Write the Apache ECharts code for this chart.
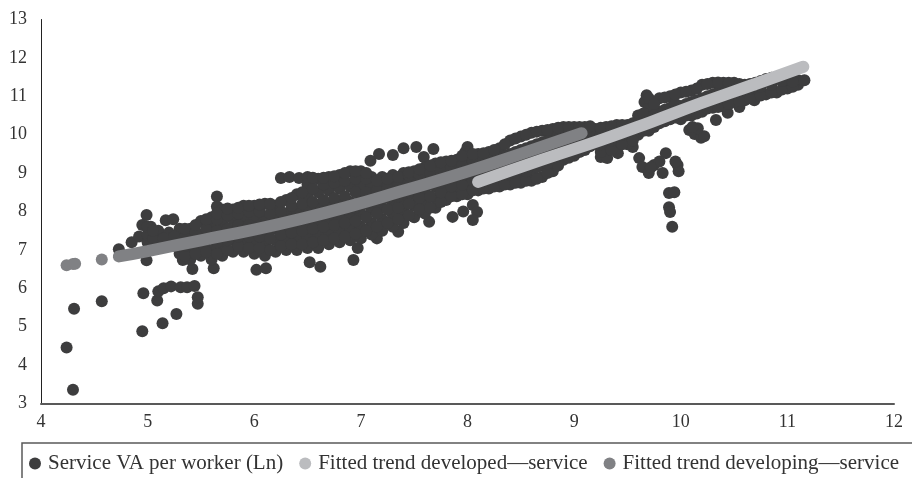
<!DOCTYPE html>
<html><head><meta charset="utf-8">
<style>html,body{margin:0;background:#fff}#c{width:912px;height:478px}</style>
<script src="https://cdn.jsdelivr.net/npm/echarts@6/dist/echarts.min.js"></script></head>
<body><div id="c"></div>
<script>
const xTicksMin = 4, xTicksMax = 12, yTicksMin = 3, yTicksMax = 13;
const seriesNames = ['Service VA per worker (Ln)', 'Fitted trend developed\u2014service', 'Fitted trend developing\u2014service'];
const serviceOutliers = [[4.30,3.36],[4.24,4.46],[4.31,5.47],[4.57,5.66],[4.96,5.87],[4.95,4.88],[5.14,5.09],[5.27,5.33],[5.47,5.60],[5.47,5.77],[5.09,5.68],[5.10,5.92],[5.15,6.0],[5.22,6.05],[5.31,6.03],[5.37,6.03],[5.44,6.06],[4.99,6.73],[4.73,7.02],[4.85,7.2],[4.92,7.35],[4.99,7.91],[4.95,7.65],[5.03,7.6],[5.17,7.77],[5.24,7.80],[5.65,8.39],[5.65,8.13],[5.42,6.5],[5.62,6.52],[6.02,6.48],[6.11,6.52],[5.33,6.74],[6.52,6.68],[6.62,6.56],[6.93,6.74],[6.97,7.05],[7.15,7.3],[7.35,7.47],[7.64,7.73],[7.86,7.86],[7.96,8.0],[8.05,8.17],[8.09,7.99],[8.05,7.78],[7.09,9.32],[7.17,9.5],[7.30,9.47],[7.40,9.65],[7.52,9.68],[7.68,9.63],[7.59,9.42],[8.0,9.68],[7.98,9.55],[6.25,8.87],[6.33,8.9],[6.42,8.87],[9.61,9.39],[9.64,9.16],[9.7,9.0],[9.75,9.21],[9.83,9.0],[9.86,9.52],[9.8,9.3],[9.72,9.15],[9.97,9.21],[9.98,9.05],[9.95,9.3],[9.89,8.48],[9.94,8.5],[9.89,8.11],[9.9,7.99],[9.92,7.6],[10.33,10.38],[10.44,10.57],[10.55,10.72],[10.69,10.9],[10.08,10.12],[10.13,10.02],[10.19,9.92],[10.22,9.96],[10.16,10.17],[10.11,10.2],[9.68,11.03],[9.66,10.85],[9.25,9.42],[9.31,9.39],[9.41,9.52],[9.55,9.68]];
const serviceColumns = [
[5.0,7.2,7.4,7.6],[5.1,7.2,7.5],[5.2,7.2,7.45],[5.3,6.9,7.15,7.4,7.55],[5.4,6.75,7.0,7.25,7.55],[5.5,6.85,7.1,7.4,7.75],
[5.6,6.75,7.0,7.3,7.6,7.85],[5.7,6.85,7.1,7.4,7.7,8.05],[5.8,6.95,7.25,7.5,7.8,8.05],[5.9,6.95,7.2,7.5,7.8,8.15],[6.0,6.9,7.2,7.5,7.85,8.15],[6.1,6.85,7.15,7.45,7.8,8.2],
[6.2,6.95,7.25,7.55,7.85,8.15],[6.3,7.0,7.3,7.6,7.95,8.3],[6.4,7.0,7.3,7.65,8.0,8.45],[6.5,7.05,7.35,7.7,8.05,8.4,8.7,8.9],[6.6,7.05,7.4,7.75,8.1,8.5,8.85],[6.7,7.15,7.45,7.8,8.15,8.55,8.9],
[6.8,7.2,7.5,7.85,8.2,8.6,8.95],[6.9,7.25,7.55,7.9,8.25,8.65,9.05],[7.0,7.3,7.6,7.95,8.3,8.7,9.05],[7.1,7.4,7.7,8.05,8.35,8.65,8.9],[7.2,7.5,7.8,8.1,8.4,8.7,8.9],[7.3,7.6,7.9,8.2,8.5,8.75,8.95],
[7.4,7.7,8.0,8.3,8.6,8.8,9.0],[7.5,7.85,8.15,8.45,8.75,9.05],[7.6,7.95,8.2,8.5,8.85,9.15],[7.7,8.1,8.35,8.65,8.95,9.25],[7.8,8.3,8.55,8.8,9.05,9.3],[7.9,8.4,8.65,8.9,9.15,9.35],
[8.0,8.45,8.7,9.0,9.25,9.5],[8.1,8.55,8.8,9.05,9.3,9.5],[8.2,8.6,8.85,9.1,9.35,9.55],[8.3,8.65,8.9,9.15,9.4,9.65],[8.4,8.7,8.95,9.2,9.5,9.85],[8.5,8.75,9.0,9.3,9.6,9.95],
[8.6,8.8,9.1,9.4,9.7,10.05],[8.7,8.9,9.2,9.5,9.8,10.1],[8.8,9.05,9.3,9.6,9.9,10.15],[8.9,9.35,9.65,9.95,10.2],[9.0,9.45,9.75,10.0,10.2],[9.1,9.6,9.85,10.05,10.2],
[9.2,9.75,9.95,10.15],[9.3,9.6,9.85,10.05,10.2],[9.4,9.65,9.9,10.25],[9.5,9.75,10.0,10.25],[9.6,10.0,10.25,10.5],[9.7,10.1,10.4,10.7,10.95],
[9.8,10.3,10.6,10.95],[9.9,10.4,10.7,11.0],[10.0,10.4,10.75,11.1],[10.1,10.5,10.85,11.15],[10.2,10.6,10.95,11.3],[10.3,10.7,11.05,11.35],
[10.4,10.75,11.1,11.35],[10.5,10.85,11.15,11.35],[10.6,10.9,11.15,11.3],[10.7,11.0,11.35],[10.8,11.05,11.45],[10.9,11.1,11.45],[11.0,11.2,11.35],[11.1,11.3,11.42],[11.16,11.42]
];
const serviceColumnsBetween = [
[5.05,7.3,7.5],[5.15,7.3],[5.25,7.1,7.35],[5.35,6.85,7.1,7.35,7.55],[5.45,6.9,7.2,7.45,7.65],[5.55,6.95,7.25,7.55,7.8],
[5.65,6.9,7.2,7.5,7.8,7.95],[5.75,7.0,7.25,7.55,7.9,8.08],[5.85,7.1,7.35,7.65,7.95,8.1],[5.95,7.05,7.35,7.65,8.0,8.15],[6.05,7.05,7.35,7.65,8.0,8.18],[6.15,7.0,7.3,7.6,7.95,8.2],
[6.25,7.1,7.4,7.7,8.0,8.25],[6.35,7.15,7.45,7.8,8.15,8.35],[6.45,7.15,7.5,7.85,8.2,8.5],[6.55,7.2,7.55,7.9,8.25,8.6,8.88],[6.65,7.25,7.6,7.95,8.3,8.7,8.88],[6.75,7.3,7.65,8.0,8.35,8.75,8.92],
[6.85,7.35,7.7,8.05,8.4,8.8,9.0],[6.95,7.42,7.75,8.1,8.5,8.85,9.05],[7.05,7.5,7.85,8.2,8.5,8.85,9.0],[7.15,7.6,7.95,8.25,8.55,8.8],[7.25,7.7,8.05,8.35,8.6,8.85],[7.35,7.8,8.1,8.4,8.65,8.9],
[7.45,7.9,8.2,8.5,8.75,8.95,9.02],[7.55,8.05,8.35,8.65,8.95,9.1],[7.65,8.1,8.4,8.7,9.0,9.2],[7.75,8.25,8.5,8.75,9.05,9.28],[7.85,8.4,8.65,8.9,9.15,9.32],[7.95,8.45,8.7,8.95,9.2,9.45],
[8.05,8.55,8.8,9.05,9.3,9.5],[8.15,8.6,8.85,9.1,9.35,9.52],[8.25,8.65,8.9,9.15,9.4,9.6],[8.35,8.7,8.95,9.2,9.45,9.75],[8.45,8.75,9.0,9.25,9.55,9.9],[8.55,8.8,9.05,9.35,9.65,10.0],
[8.65,8.85,9.15,9.45,9.75,10.08],[8.75,9.0,9.25,9.55,9.85,10.12],[8.85,9.2,9.45,9.75,10.0,10.18],[8.95,9.4,9.7,9.95,10.2],[9.05,9.55,9.8,10.0,10.2],[9.15,9.7,9.9,10.1,10.22],
[9.25,9.55,9.75,10.0,10.18],[9.35,9.6,9.85,10.1,10.22],[9.45,9.75,10.0,10.25],[9.55,9.85,10.1,10.3],[9.65,10.1,10.3,10.55],[9.75,10.2,10.5,10.8],
[9.85,10.35,10.65,10.97],[9.95,10.45,10.8,11.05],[10.05,10.5,10.8,11.12],[10.15,10.55,10.9,11.2],[10.25,10.68,11.0,11.32],[10.35,10.72,11.1,11.36],
[10.45,10.8,11.15,11.35],[10.55,10.88,11.15,11.32],[10.65,10.95,11.2,11.32],[10.75,11.02,11.25,11.4],[10.85,11.1,11.3,11.48],[10.95,11.18,11.4],[11.05,11.25,11.38]
];
const developingIsolated = [[4.24,6.6],[4.3,6.63],[4.32,6.64],[4.57,6.75]];
const developingLine = [[4.73,6.83],[5.0,6.97],[5.5,7.25],[6.0,7.53],[6.43,7.80],[6.9,8.14],[7.37,8.52],[8.0,9.04],[8.5,9.5],[9.07,10.04]];
const developedLine = [[8.1,8.77],[8.7,9.35],[9.25,9.86],[9.72,10.33],[10.19,10.82],[10.7,11.32],[11.15,11.77]];

const DARK='#3d3d3e', MID='#808184', LIGHT='#bbbcbf', SERIF='"Liberation Serif", serif';
const serviceData = serviceOutliers
  .concat(serviceColumns.flatMap(c => c.slice(1).map(y => [c[0], y])))
  .concat(serviceColumnsBetween.flatMap(c => c.slice(1).map(y => [c[0], y])));
const chart = echarts.init(document.getElementById('c'), null, {renderer:'canvas'});
const axisCommon = {
  splitLine:{show:false}, axisTick:{show:false},
  axisLabel:{color:'#333', fontFamily:SERIF, fontSize:18}
};
chart.setOption({
  animation:false,
  grid:{left:41, right:18, top:19.5, bottom:74.5},
  xAxis:Object.assign({type:'value',min:xTicksMin,max:xTicksMax,interval:1,
    axisLine:{show:true,onZero:false,lineStyle:{color:'#595959',width:2}}},axisCommon,
    {axisLabel:Object.assign({},axisCommon.axisLabel,{margin:10})}),
  yAxis:Object.assign({type:'value',min:yTicksMin,max:yTicksMax,interval:1,
    axisLine:{show:true,onZero:false,lineStyle:{color:'#222',width:1}}},axisCommon,
    {axisLabel:Object.assign({},axisCommon.axisLabel,{margin:14})}),
  legend:{left:29, top:453, icon:'circle', itemWidth:12, itemHeight:12, itemGap:16, padding:0,
    data:seriesNames,
    textStyle:{color:'#333', fontFamily:SERIF, fontSize:21, padding:[0,0,0,2]}},
  graphic:[
    {type:'polyline',shape:{points:[[912,443],[22,443],[22,478]]},style:{stroke:'#595959',lineWidth:1.5,fill:null}}
  ],
  series:[
    {name:seriesNames[0],type:'scatter',symbolSize:12,data:serviceData,itemStyle:{color:DARK,opacity:1},z:2},
    {name:seriesNames[2],type:'scatter',symbolSize:12,data:developingIsolated,itemStyle:{color:MID,opacity:1},z:3},
    {name:seriesNames[2],type:'line',smooth:true,showSymbol:false,data:developingLine,itemStyle:{color:MID},
      lineStyle:{color:MID,width:12,cap:'round'},z:3},
    {name:seriesNames[1],type:'line',smooth:true,showSymbol:false,data:developedLine,itemStyle:{color:LIGHT},
      lineStyle:{color:LIGHT,width:12,cap:'round'},z:4}
  ]
});
</script></body></html>
